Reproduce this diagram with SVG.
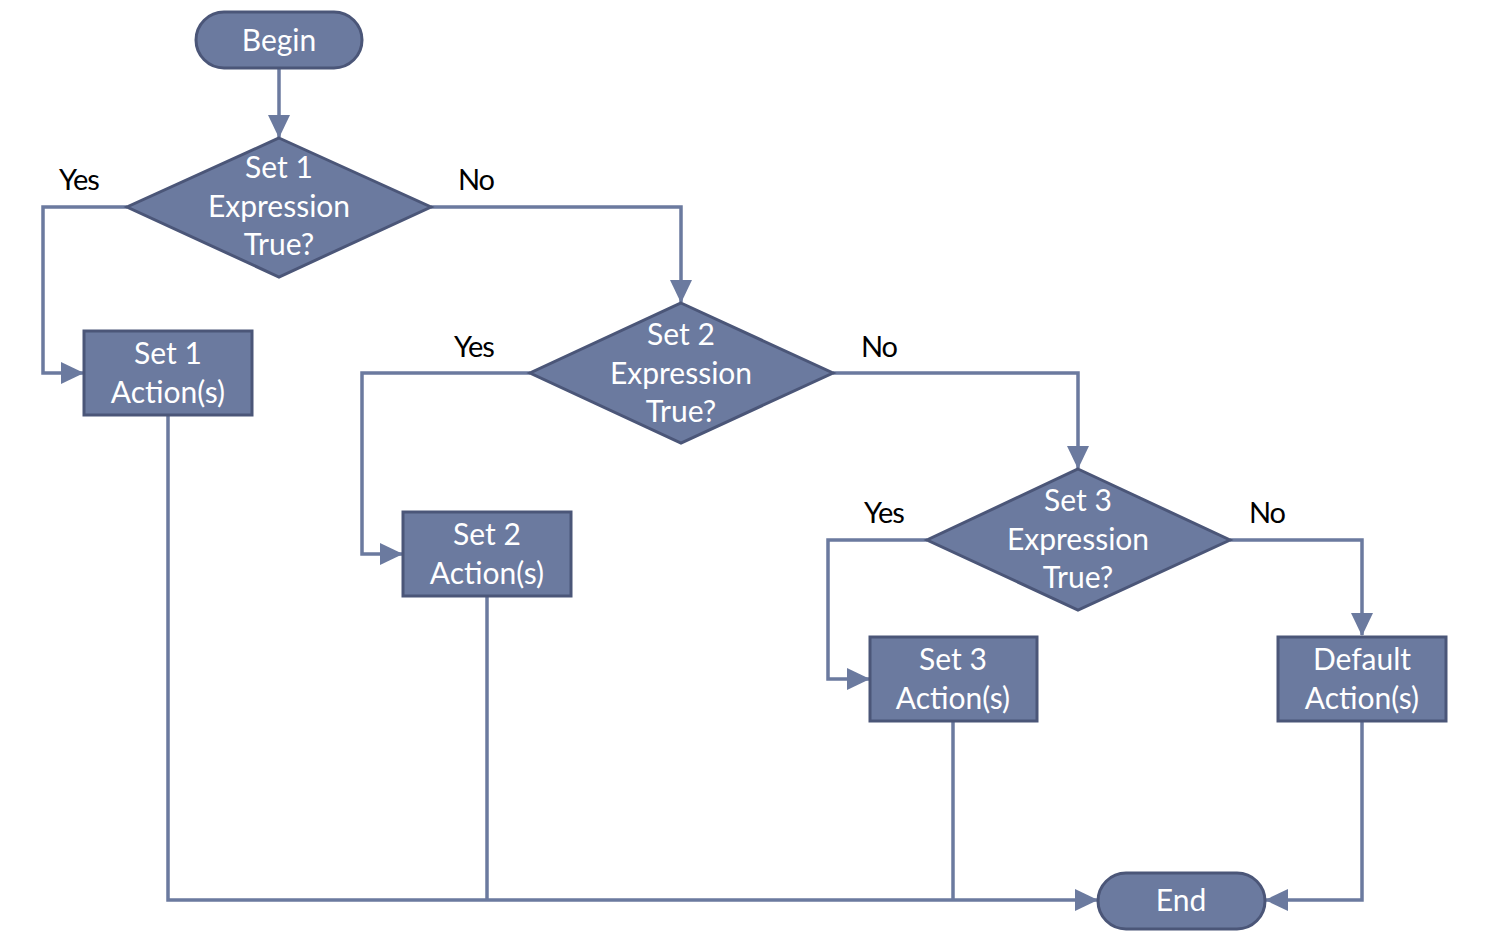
<svg xmlns="http://www.w3.org/2000/svg" width="1508" height="944" viewBox="0 0 1508 944">
<style>
.shape{fill:#6b7a9f;stroke:#4b5678;stroke-width:3}
.t{font-family:Lato,"Open Sans","Liberation Sans",sans-serif;font-size:30px;fill:#ffffff;text-anchor:middle;dominant-baseline:central}
.lbl{font-family:Lato,"Open Sans","Liberation Sans",sans-serif;font-size:29px;fill:#000000;text-anchor:middle;dominant-baseline:central;letter-spacing:-1px}
.c{fill:none;stroke:#6b7a9f;stroke-width:3.5}
</style>
<defs>
<marker id="ah" markerUnits="userSpaceOnUse" markerWidth="24" markerHeight="24" viewBox="0 0 24 24" refX="22" refY="12" orient="auto">
<path d="M0,1 L23,12 L0,23 Z" fill="#6b7a9f"/>
</marker>
</defs>
<rect width="1508" height="944" fill="#ffffff"/>
<g id="connectors">
<path class="c" d="M279,68 V137" marker-end="url(#ah)"/>
<path class="c" d="M127,207 H43 V373 H83" marker-end="url(#ah)"/>
<path class="c" d="M431,207 H681 V302" marker-end="url(#ah)"/>
<path class="c" d="M530,373 H362 V554 H402" marker-end="url(#ah)"/>
<path class="c" d="M833,373 H1078 V468" marker-end="url(#ah)"/>
<path class="c" d="M927,540 H828 V679 H869" marker-end="url(#ah)"/>
<path class="c" d="M1230,540 H1362 V635" marker-end="url(#ah)"/>
<path class="c" d="M168,415 V900 H1097" marker-end="url(#ah)"/>
<path class="c" d="M487,596 V900"/>
<path class="c" d="M953,721 V900"/>
<path class="c" d="M1362,721 V900 H1266" marker-end="url(#ah)"/>
</g>
<g id="labels">
<text class="lbl" x="79" y="178">Yes</text>
<text class="lbl" x="476" y="178">No</text>
<text class="lbl" x="474" y="345">Yes</text>
<text class="lbl" x="879" y="345">No</text>
<text class="lbl" x="884" y="511">Yes</text>
<text class="lbl" x="1267" y="511">No</text>
</g>
<g id="begin">
<rect class="shape" x="196" y="12" width="166" height="56" rx="28"/>
<text class="t" x="279" y="39">Begin</text>
</g>
<g id="decision1">
<polygon class="shape" points="279,138 431,207 279,277 127,207"/>
<text class="t" x="279" y="166">Set 1</text>
<text class="t" x="279" y="205">Expression</text>
<text class="t" x="279" y="243">True?</text>
</g>
<g id="action1">
<rect class="shape" x="84" y="331" width="168" height="84"/>
<text class="t" x="168" y="352">Set 1</text>
<text class="t" x="168" y="391">Action(s)</text>
</g>
<g id="decision2">
<polygon class="shape" points="681,303 833,373 681,443 530,373"/>
<text class="t" x="681" y="333">Set 2</text>
<text class="t" x="681" y="372">Expression</text>
<text class="t" x="681" y="410">True?</text>
</g>
<g id="action2">
<rect class="shape" x="403" y="512" width="168" height="84"/>
<text class="t" x="487" y="533">Set 2</text>
<text class="t" x="487" y="572">Action(s)</text>
</g>
<g id="decision3">
<polygon class="shape" points="1078,469 1230,540 1078,610 927,540"/>
<text class="t" x="1078" y="499">Set 3</text>
<text class="t" x="1078" y="538">Expression</text>
<text class="t" x="1078" y="576">True?</text>
</g>
<g id="action3">
<rect class="shape" x="870" y="637" width="167" height="84"/>
<text class="t" x="953" y="658">Set 3</text>
<text class="t" x="953" y="697">Action(s)</text>
</g>
<g id="default">
<rect class="shape" x="1278" y="637" width="168" height="84"/>
<text class="t" x="1362" y="658">Default</text>
<text class="t" x="1362" y="697">Action(s)</text>
</g>
<g id="end">
<rect class="shape" x="1098" y="873" width="167" height="56" rx="28"/>
<text class="t" x="1181" y="899">End</text>
</g>
</svg>
